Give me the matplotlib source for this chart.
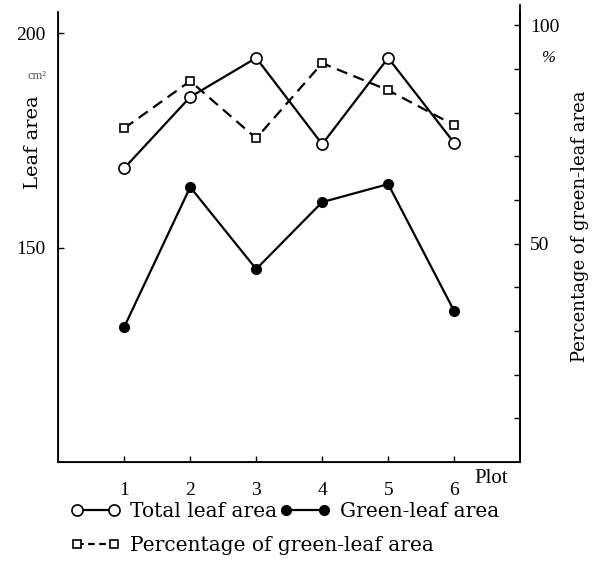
import matplotlib
matplotlib.use("Agg")
import matplotlib.pyplot as plt
from matplotlib.lines import Line2D

plt.rcParams["font.family"] = ["Liberation Serif", "DejaVu Serif"]

# wide serif for the word labels
WIDE = ["DejaVu Serif"]

# ==========================================
# DATA
# ==========================================

plots = [1, 2, 3, 4, 5, 6]
plot_labels = ["1", "2", "3", "4", "5", "6"]

total_leaf_area = [168.5, 185.1, 194.2, 174.1, 194.2, 174.4]
green_leaf_area = [131.5, 164.1, 145.0, 160.6, 164.8, 135.2]
green_percentage = [76.4, 87.2, 74.1, 91.3, 85.1, 77.1]

# ==========================================
# FIGURE
# ==========================================

fig = plt.figure(
    figsize=(6.0, 5.72),
    dpi=100
)

ax = fig.add_axes(
    [0.097, 0.192, 0.77, 0.787]
)

ax.plot(
    plots,
    total_leaf_area,
    color="black",
    linewidth=1.6,
    marker="o",
    markersize=8,
    markerfacecolor="white",
    markeredgewidth=1.2,
    zorder=3
)

ax.plot(
    plots,
    green_leaf_area,
    color="black",
    linewidth=1.6,
    marker="o",
    markersize=7,
    markerfacecolor="black",
    zorder=3
)

ax.set_xlim(0, 7)
ax.set_ylim(100, 204.9)

ax.set_xticks(plots)
ax.set_xticklabels(plot_labels)
ax.set_yticks([150, 200])

ax.tick_params(
    axis="both",
    direction="in",
    length=4,
    width=1,
    labelsize=14
)
ax.tick_params(axis="x", pad=14)
ax.tick_params(axis="y", pad=9)

ax.spines["top"].set_visible(False)
for side in ["left", "bottom", "right"]:
    ax.spines[side].set_linewidth(1.3)

fig.text(
    33 / 600, 1 - 142 / 572,
    "Leaf area",
    rotation=90,
    fontsize=14,
    family=WIDE,
    ha="center",
    va="center"
)

fig.text(
    37 / 600, 1 - 76 / 572,
    "cm²",
    fontsize=9,
    color="#555555",
    ha="center",
    va="center"
)

ax.text(
    6.3, -0.036,
    "Plot",
    transform=ax.get_xaxis_transform(),
    fontsize=15,
    ha="left",
    va="center"
)

# ==========================================
# PERCENTAGE AXIS
# ==========================================

ax2 = ax.twinx()

ax2.plot(
    plots,
    green_percentage,
    color="black",
    linewidth=1.6,
    linestyle=(0, (5, 3)),
    marker="s",
    markersize=6,
    markerfacecolor="white",
    markeredgewidth=1.2,
    zorder=3
)

ax2.set_ylim(0, 103)
ax2.set_yticks([10, 20, 30, 40, 50, 60, 70, 80, 90, 100])
ax2.set_yticklabels(
    ["", "", "", "", "50", "", "", "", "", "100"]
)
ax2.tick_params(
    axis="y",
    direction="in",
    length=4,
    width=1,
    labelsize=14,
    pad=7
)

ax2.spines["top"].set_visible(False)
ax2.spines["right"].set_linewidth(1.3)
ax2.spines["right"].set_bounds(0, 104.6)

fig.text(
    548 / 600, 1 - 58 / 572,
    "%",
    fontsize=12,
    style="italic",
    ha="center",
    va="center"
)

fig.text(
    580 / 600, 1 - 226 / 572,
    "Percentage of green-leaf area",
    rotation=90,
    fontsize=13,
    family=WIDE,
    ha="center",
    va="center"
)

# ==========================================
# LEGEND
# ==========================================

handle_total = Line2D(
    [], [],
    color="black", linewidth=1.6,
    marker="o", markersize=8,
    markerfacecolor="white", markeredgewidth=1.2
)
handle_green = Line2D(
    [], [],
    color="black", linewidth=1.6,
    marker="o", markersize=7,
    markerfacecolor="black"
)
handle_pct = Line2D(
    [], [],
    color="black", linewidth=1.6,
    linestyle=(0, (3, 2)),
    marker="s", markersize=6,
    markerfacecolor="white", markeredgewidth=1.2
)

legend_font = {"family": WIDE, "size": 14.5}

fig.legend(
    [handle_total, handle_green],
    ["Total leaf area", "Green-leaf area"],
    loc="center left",
    bbox_to_anchor=(0.118, 0.105),
    ncol=2,
    numpoints=2,
    frameon=False,
    prop=legend_font,
    handlelength=2.45,
    handletextpad=0.5,
    columnspacing=0.15,
    borderpad=0,
    borderaxespad=0
)

fig.legend(
    [handle_pct],
    ["Percentage of green-leaf area"],
    loc="center left",
    bbox_to_anchor=(0.118, 0.046),
    numpoints=2,
    frameon=False,
    prop=legend_font,
    handlelength=2.45,
    handletextpad=0.5,
    borderpad=0,
    borderaxespad=0
)

fig.savefig("out.png", dpi=100)
plt.close(fig)
